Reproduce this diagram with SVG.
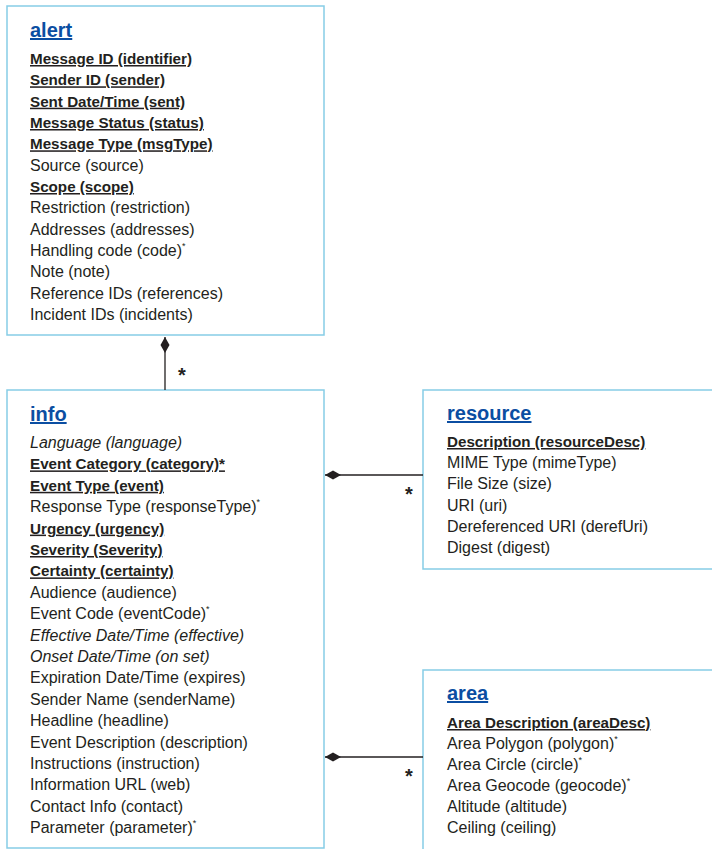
<svg xmlns="http://www.w3.org/2000/svg" width="712" height="849" viewBox="0 0 712 849">
<defs>
<style>
.box{fill:#ffffff;stroke:#86cde6;stroke-width:1.5}
.t{font-family:"Liberation Sans",Arial,sans-serif;font-size:16px;fill:#231f20}
.b{font-weight:bold;font-size:15.2px;text-decoration:underline}
.i{font-style:italic}
.title{font-family:"Liberation Sans",Arial,sans-serif;font-size:20px;font-weight:bold;fill:#0b4ea2;text-decoration:underline}
.sup{font-size:9px}
.conn{stroke:#231f20;stroke-width:1.3;fill:none}
.mult{font-family:"Liberation Sans",Arial,sans-serif;font-size:20px;font-weight:bold;fill:#231f20}
</style>
<marker id="diamond" markerUnits="userSpaceOnUse" viewBox="0 0 16 10" markerWidth="16" markerHeight="10" refX="0" refY="5" orient="auto">
<path d="M0,5 L8,0.5 L16,5 L8,9.5 Z" fill="#231f20"/>
</marker>
</defs>
<rect width="712" height="849" fill="#ffffff"/>

<g id="alert">
<rect class="box" x="7" y="6" width="317" height="329"/>
<text class="title" x="30" y="37">alert</text>
<text class="t b" x="30" y="64">Message ID (identifier)</text>
<text class="t b" x="30" y="85.3">Sender ID (sender)</text>
<text class="t b" x="30" y="106.7">Sent Date/Time (sent)</text>
<text class="t b" x="30" y="128">Message Status (status)</text>
<text class="t b" x="30" y="149.3">Message Type (msgType)</text>
<text class="t" x="30" y="170.7">Source (source)</text>
<text class="t b" x="30" y="192">Scope (scope)</text>
<text class="t" x="30" y="213.3">Restriction (restriction)</text>
<text class="t" x="30" y="234.7">Addresses (addresses)</text>
<text class="t" x="30" y="256">Handling code (code)<tspan class="sup" dy="-7">*</tspan></text>
<text class="t" x="30" y="277.3">Note (note)</text>
<text class="t" x="30" y="298.7">Reference IDs (references)</text>
<text class="t" x="30" y="320">Incident IDs (incidents)</text>
</g>

<g id="info">
<rect class="box" x="7" y="390" width="317" height="458"/>
<text class="title" x="30" y="421">info</text>
<text class="t i" x="30" y="448">Language (language)</text>
<text class="t b" x="30" y="469.4">Event Category (category)*</text>
<text class="t b" x="30" y="490.8">Event Type (event)</text>
<text class="t" x="30" y="512.2">Response Type (responseType)<tspan class="sup" dy="-7">*</tspan></text>
<text class="t b" x="30" y="533.6">Urgency (urgency)</text>
<text class="t b" x="30" y="555">Severity (Severity)</text>
<text class="t b" x="30" y="576.4">Certainty (certainty)</text>
<text class="t" x="30" y="597.8">Audience (audience)</text>
<text class="t" x="30" y="619.2">Event Code (eventCode)<tspan class="sup" dy="-7">*</tspan></text>
<text class="t i" x="30" y="640.6">Effective Date/Time (effective)</text>
<text class="t i" x="30" y="662">Onset Date/Time (on set)</text>
<text class="t" x="30" y="683.4">Expiration Date/Time (expires)</text>
<text class="t" x="30" y="704.8">Sender Name (senderName)</text>
<text class="t" x="30" y="726.2">Headline (headline)</text>
<text class="t" x="30" y="747.6">Event Description (description)</text>
<text class="t" x="30" y="769">Instructions (instruction)</text>
<text class="t" x="30" y="790.4">Information URL (web)</text>
<text class="t" x="30" y="811.8">Contact Info (contact)</text>
<text class="t" x="30" y="833.2">Parameter (parameter)<tspan class="sup" dy="-7">*</tspan></text>
</g>

<g id="resource">
<rect class="box" x="423" y="390" width="292" height="179"/>
<text class="title" x="447" y="420">resource</text>
<text class="t b" x="447" y="447">Description (resourceDesc)</text>
<text class="t" x="447" y="468.2">MIME Type (mimeType)</text>
<text class="t" x="447" y="489.4">File Size (size)</text>
<text class="t" x="447" y="510.6">URI (uri)</text>
<text class="t" x="447" y="531.8">Dereferenced URI (derefUri)</text>
<text class="t" x="447" y="553">Digest (digest)</text>
</g>

<g id="area">
<rect class="box" x="423" y="670" width="292" height="182"/>
<text class="title" x="447" y="700">area</text>
<text class="t b" x="447" y="728">Area Description (areaDesc)</text>
<text class="t" x="447" y="749">Area Polygon (polygon)<tspan class="sup" dy="-7">*</tspan></text>
<text class="t" x="447" y="770">Area Circle (circle)<tspan class="sup" dy="-7">*</tspan></text>
<text class="t" x="447" y="791">Area Geocode (geocode)<tspan class="sup" dy="-7">*</tspan></text>
<text class="t" x="447" y="812">Altitude (altitude)</text>
<text class="t" x="447" y="833">Ceiling (ceiling)</text>
</g>

<g id="connectors">
<path class="conn" d="M165,337 L165,390" marker-start="url(#diamond)"/>
<path class="conn" d="M325,475 L423,475" marker-start="url(#diamond)"/>
<path class="conn" d="M325,757 L423,757" marker-start="url(#diamond)"/>
<text class="mult" x="182" y="382" text-anchor="middle">*</text>
<text class="mult" x="409" y="501" text-anchor="middle">*</text>
<text class="mult" x="409" y="783" text-anchor="middle">*</text>
</g>
</svg>
